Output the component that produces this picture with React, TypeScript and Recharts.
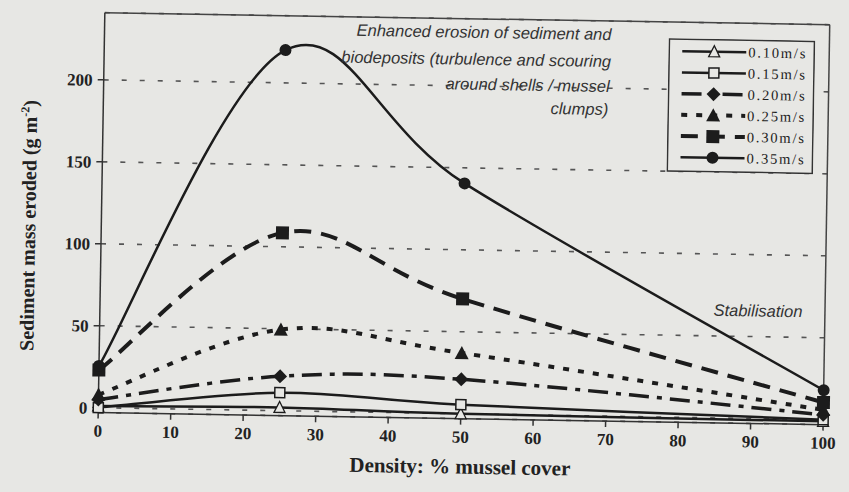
import React from "react";
import { LineChart, Line, XAxis, YAxis, CartesianGrid, Legend, ReferenceLine } from "recharts";

// % mussel cover on the bed
const density = [0, 25, 50, 100];
// sediment mass eroded (g m-2) for each flow speed
const speed010 = [1, 2, 0, -1];
const speed015 = [0, 11, 5.5, 0];
const speed020 = [5, 21, 21, 3];
const speed025 = [8, 49.5, 37, 6];
const speed030 = [23, 108.5, 70, 10.5];
const speed035 = [25.5, 220, 140.5, 18];

const xTicks = [0, 10, 20, 30, 40, 50, 60, 70, 80, 90, 100];
const yTicks = [0, 50, 100, 150, 200];

const data = density.map((d, i) => ({
  density: d,
  s010: speed010[i],
  s015: speed015[i],
  s020: speed020[i],
  s025: speed025[i],
  s030: speed030[i],
  s035: speed035[i],
}));

const INK = "#1c1c1c";
const PAPER = "#e7e7e4";

const series = [
  { key: "s010", name: "0.10m/s", dash: undefined, width: 2.5, marker: "openTriangle" },
  { key: "s015", name: "0.15m/s", dash: undefined, width: 2.5, marker: "openSquare" },
  { key: "s020", name: "0.20m/s", dash: "20 8 5 8", width: 3.5, marker: "diamond" },
  { key: "s025", name: "0.25m/s", dash: "6 9", width: 4, marker: "triangle" },
  { key: "s030", name: "0.30m/s", dash: "17 10", width: 4, marker: "square" },
  { key: "s035", name: "0.35m/s", dash: undefined, width: 2.5, marker: "circle" },
];

// smooth line through the points, like the old spreadsheet "smoothed line"
const smoothCurve = (context: any) => {
  let pts: number[][] = [];
  return {
    areaStart() {},
    areaEnd() {},
    lineStart() {
      pts = [];
    },
    lineEnd() {
      if (!pts.length) return;
      context.moveTo(pts[0][0], pts[0][1]);
      for (let i = 0; i < pts.length - 1; i++) {
        const p0 = pts[i - 1] || pts[i];
        const p1 = pts[i];
        const p2 = pts[i + 1];
        const p3 = pts[i + 2] || p2;
        context.bezierCurveTo(
          p1[0] + (p2[0] - p0[0]) / 6,
          p1[1] + (p2[1] - p0[1]) / 6,
          p2[0] - (p3[0] - p1[0]) / 6,
          p2[1] - (p3[1] - p1[1]) / 6,
          p2[0],
          p2[1]
        );
      }
    },
    point(x: number, y: number) {
      pts.push([+x, +y]);
    },
  };
};

const Marker = ({ shape, cx, cy }: any) => {
  if (cx == null || cy == null) return null;
  switch (shape) {
    case "circle":
      return <circle cx={cx} cy={cy} r={6} fill={INK} />;
    case "square":
      return <rect x={cx - 6.5} y={cy - 6.5} width={13} height={13} fill={INK} />;
    case "openSquare":
      return <rect x={cx - 5} y={cy - 5} width={10} height={10} fill={PAPER} stroke={INK} strokeWidth={1.5} />;
    case "triangle":
      return <path d={`M${cx},${cy - 7}L${cx + 7},${cy + 6}L${cx - 7},${cy + 6}Z`} fill={INK} />;
    case "openTriangle":
      return (
        <path
          d={`M${cx},${cy - 6}L${cx + 5.5},${cy + 5}L${cx - 5.5},${cy + 5}Z`}
          fill={PAPER}
          stroke={INK}
          strokeWidth={1.3}
        />
      );
    case "diamond":
      return <path d={`M${cx},${cy - 7}L${cx + 7},${cy}L${cx},${cy + 7}L${cx - 7},${cy}Z`} fill={INK} />;
    default:
      return null;
  }
};

const LegendBox = () => (
  <svg width={147} height={134} style={{ display: "block" }}>
    <rect x={1} y={1} width={145} height={132} fill={PAPER} stroke="#333" strokeWidth={1.5} />
    {series.map((s, i) => {
      const y = 13 + i * 21.2;
      return (
        <g key={s.key}>
          <line x1={14} x2={78} y1={y} y2={y} stroke={INK} strokeWidth={s.width} strokeDasharray={s.dash} />
          <Marker shape={s.marker} cx={46} cy={y} />
          <text
            x={80}
            y={y + 5}
            fontFamily="Liberation Serif"
            fontSize={14.5}
            letterSpacing={1.8}
            fill={INK}
          >
            {s.name}
          </text>
        </g>
      );
    })}
  </svg>
);

const tickStyle = { fontFamily: "Liberation Serif", fontWeight: "bold", fontSize: 17, fill: "#222" };
const noteStyle: any = { fontFamily: "Liberation Sans", fontStyle: "italic", fontSize: 16.5, fill: "#333" };

export default function App() {
  return (
    <div style={{ position: "fixed", left: 0, top: 0, width: 849, height: 492, background: PAPER, overflow: "hidden" }}>
      <div style={{ position: "relative", width: 849, height: 492, transform: "rotate(0.95deg)" }}>
        <LineChart width={849} height={492} data={data} margin={{ top: 18, right: 23, left: 0, bottom: 0 }}>
          <CartesianGrid horizontal vertical={false} stroke="#555" strokeWidth={1.6} strokeDasharray="5 13" />
          <XAxis
            dataKey="density"
            type="number"
            domain={[0, 100]}
            ticks={xTicks}
            height={74}
            stroke="#333"
            strokeWidth={1.5}
            tickSize={6}
            tickMargin={6}
            tick={tickStyle}
            label={{
              content: ({ viewBox }: any) => (
                <text
                  x={viewBox.x + viewBox.width / 2}
                  y={viewBox.y + 55}
                  textAnchor="middle"
                  fontFamily="Liberation Serif"
                  fontWeight="bold"
                  fontSize={21}
                  fill="#222"
                >
                  Density: % mussel cover
                </text>
              ),
            }}
          />
          <YAxis
            type="number"
            domain={[-3, 241]}
            ticks={yTicks}
            width={101}
            stroke="#333"
            strokeWidth={1.5}
            tickSize={6}
            tickMargin={5}
            tick={tickStyle}
            label={{
              content: () => (
                <text
                  transform="translate(35,232) rotate(-90)"
                  textAnchor="middle"
                  fontFamily="Liberation Serif"
                  fontWeight="bold"
                  fontSize={20}
                  fill="#222"
                >
                  Sediment mass eroded (g m
                  <tspan dy={-8} fontSize={12}>
                    -2
                  </tspan>
                  <tspan dy={8}>)</tspan>
                </text>
              ),
            }}
          />
          <ReferenceLine y={241} stroke="#444" strokeWidth={1.5} />
          <ReferenceLine x={100} stroke="#444" strokeWidth={1.5} />
          <Legend
            layout="vertical"
            align="center"
            verticalAlign="middle"
            wrapperStyle={{ left: 665, top: 34, width: 147, height: 134 }}
            content={() => <LegendBox />}
          />
          {series.map((s) => (
            <Line
              key={s.key}
              dataKey={s.key}
              name={s.name}
              type={smoothCurve as any}
              stroke={INK}
              strokeWidth={s.width}
              strokeDasharray={s.dash}
              dot={(p: any) => <Marker key={`${s.key}-${p.index}`} shape={s.marker} cx={p.cx} cy={p.cy} />}
              activeDot={false}
              isAnimationActive={false}
            />
          ))}
        </LineChart>
        <svg width={849} height={492} style={{ position: "absolute", left: 0, top: 0, pointerEvents: "none" }}>
          <text x={608} y={37} textAnchor="end" {...noteStyle}>
            Enhanced erosion of sediment and
          </text>
          <text x={608} y={64} textAnchor="end" {...noteStyle}>
            biodeposits (turbulence and scouring
          </text>
          <text x={607} y={89} textAnchor="end" {...noteStyle}>
            around shells / mussel
          </text>
          <text x={606} y={112} textAnchor="end" {...noteStyle}>
            clumps)
          </text>
          <text x={759} y={311} textAnchor="middle" {...noteStyle}>
            Stabilisation
          </text>
        </svg>
      </div>
    </div>
  );
}
